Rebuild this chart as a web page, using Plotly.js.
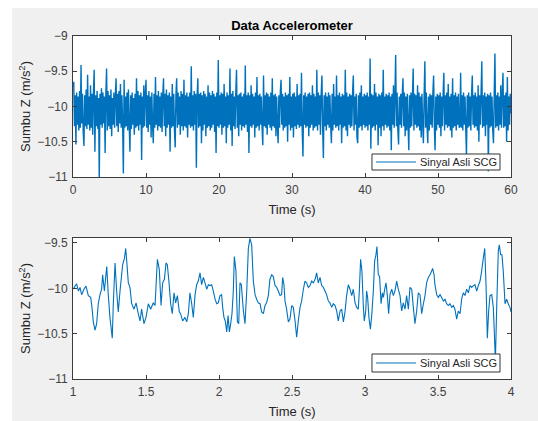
<!DOCTYPE html>
<html>
<head>
<meta charset="utf-8">
<script src="https://cdn.plot.ly/plotly-3.0.1.min.js"></script>
<style>
html,body{margin:0;padding:0;background:#ffffff;}
#chart{position:absolute;left:12px;top:8px;width:526px;height:413px;}
</style>
</head>
<body>
<div id="chart"></div>
<script>
// ---- Data: full 60 s recording, sampled every 0.1 s (values in m/s^2) ----
const fullStart = 0;
const fullStep = 0.1;
const fullValues = [
-9.72,-9.65,-10.28,-9.84,-10.54,-9.80,-10.26,-9.86,-10.34,-9.78,
-10.30,-9.41,-10.24,-9.82,-10.36,-10.56,-9.84,-10.28,-9.76,-10.32,
-9.55,-10.26,-9.86,-10.34,-9.70,-10.30,-9.82,-10.40,-9.80,-9.48,
-10.64,-9.84,-10.28,-9.78,-10.32,-9.88,-11.05,-9.82,-10.26,-9.74,
-10.30,-9.80,-10.24,-9.86,-10.66,-9.82,-9.46,-10.34,-9.78,-10.28,
-9.84,-10.32,-9.76,-10.42,-9.88,-10.26,-9.80,-10.30,-9.86,-9.60,
-10.28,-9.82,-10.36,-9.78,-10.24,-9.68,-10.30,-9.84,-10.26,-10.95,
-9.62,-10.30,-9.86,-10.28,-9.80,-10.34,-9.76,-10.26,-10.64,-9.84,
-10.32,-9.80,-10.26,-9.88,-10.40,-9.82,-10.30,-9.60,-10.28,-9.78,
-10.34,-9.84,-10.26,-9.80,-10.76,-9.86,-10.30,-9.70,-10.28,-9.82,
-9.62,-10.30,-9.84,-10.36,-9.78,-10.26,-9.86,-10.44,-9.80,-10.28,
-10.52,-9.82,-10.30,-9.58,-10.26,-9.84,-10.34,-9.78,-10.28,-9.86,
-10.30,-9.80,-10.36,-9.84,-9.60,-10.28,-9.82,-10.42,-9.76,-10.30,
-9.84,-10.26,-9.80,-10.64,-9.86,-10.30,-9.68,-10.28,-9.82,-10.34,
-10.58,-9.84,-9.60,-10.30,-9.80,-10.26,-9.86,-10.40,-9.78,-10.28,
-9.82,-10.34,-9.62,-10.28,-9.84,-10.30,-9.80,-10.44,-9.86,-10.26,
-9.80,-10.30,-9.43,-10.28,-9.84,-10.34,-9.78,-10.26,-9.82,-10.87,
-9.86,-9.60,-10.30,-9.82,-10.28,-9.80,-10.52,-9.84,-10.34,-9.78,
-10.26,-9.82,-10.42,-9.86,-10.30,-9.70,-10.28,-9.80,-10.34,-9.84,
-10.30,-9.78,-10.26,-9.82,-10.36,-9.86,-10.66,-9.80,-10.28,-9.34,
-10.30,-9.84,-10.26,-9.80,-10.40,-9.82,-10.30,-9.68,-10.28,-9.86,
-10.52,-9.80,-10.30,-9.84,-10.26,-9.46,-10.34,-9.82,-10.56,-9.78,
-10.28,-9.86,-10.32,-9.80,-9.48,-10.30,-9.84,-10.42,-9.82,-10.26,
-9.80,-10.34,-9.86,-10.28,-9.82,-10.30,-9.42,-10.26,-9.84,-10.36,
-9.80,-10.66,-9.84,-10.28,-9.70,-10.30,-9.82,-10.26,-9.86,-10.44,
-9.80,-10.30,-9.58,-10.28,-9.84,-10.34,-9.82,-10.26,-9.86,-10.30,
-10.55,-9.56,-10.28,-9.84,-10.30,-9.80,-10.40,-9.82,-10.26,-9.86,
-10.30,-9.80,-10.34,-9.60,-10.28,-9.84,-10.30,-9.82,-10.42,-9.86,
-10.28,-10.52,-9.84,-10.30,-9.80,-9.62,-10.26,-9.82,-10.34,-9.86,
-10.30,-9.80,-10.28,-9.84,-10.50,-9.82,-10.26,-9.58,-10.34,-9.86,
-10.30,-9.82,-10.44,-9.80,-10.28,-9.86,-10.32,-9.68,-10.26,-9.84,
-10.30,-9.82,-10.28,-9.52,-10.34,-10.71,-9.84,-10.26,-9.80,-10.30,
-9.86,-10.28,-9.82,-10.42,-9.80,-10.30,-9.84,-10.26,-9.70,-10.34,
-9.82,-10.30,-9.86,-10.28,-9.48,-10.34,-9.80,-10.26,-9.84,-10.40,
-9.82,-9.56,-10.30,-10.73,-9.84,-10.28,-9.80,-10.34,-9.86,-10.26,
-9.80,-10.30,-9.84,-10.28,-10.52,-9.82,-10.34,-9.68,-10.26,-9.86,
-10.30,-9.56,-10.28,-9.84,-10.34,-9.80,-10.26,-9.86,-10.52,-9.82,
-10.30,-9.84,-10.28,-9.48,-10.34,-9.80,-10.42,-9.86,-10.26,-9.82,
-10.30,-9.84,-10.28,-9.80,-9.56,-10.34,-9.86,-10.26,-9.82,-10.44,
-10.52,-9.84,-10.30,-9.80,-10.28,-9.70,-10.34,-9.86,-10.26,-9.82,
-10.30,-9.84,-10.28,-9.80,-10.34,-9.86,-10.26,-9.32,-10.60,-9.82,
-10.30,-9.84,-10.28,-9.68,-10.34,-9.80,-10.26,-9.86,-10.55,-9.82,
-10.30,-9.84,-10.42,-9.80,-10.28,-9.48,-10.34,-9.86,-10.26,-9.82,
-10.30,-9.84,-10.28,-9.80,-10.34,-9.86,-10.62,-9.82,-10.26,-9.70,
-10.30,-9.84,-9.27,-10.28,-9.80,-10.34,-10.54,-9.86,-10.26,-9.82,
-10.30,-9.84,-9.60,-10.28,-9.80,-10.42,-9.86,-10.34,-9.82,-10.26,
-10.62,-9.84,-10.30,-9.80,-10.28,-9.86,-9.46,-10.34,-9.82,-10.26,
-9.84,-10.30,-9.70,-10.28,-9.80,-10.34,-9.86,-10.44,-9.82,-10.26,
-10.52,-9.84,-9.36,-10.30,-9.80,-10.28,-10.52,-9.86,-10.34,-9.82,
-10.26,-9.84,-10.30,-9.80,-9.56,-10.28,-10.62,-9.86,-10.34,-9.82,
-10.26,-9.84,-10.30,-9.80,-10.42,-9.86,-10.28,-9.82,-9.52,-10.34,
-9.84,-10.26,-9.80,-10.30,-9.68,-10.28,-9.86,-10.34,-9.82,-10.44,
-9.60,-10.30,-9.84,-10.28,-9.80,-10.34,-9.86,-10.26,-9.82,-10.30,
-10.28,-9.52,-10.30,-9.84,-10.34,-9.80,-10.26,-9.86,-10.30,-10.70,
-9.84,-10.30,-9.80,-10.28,-9.86,-10.34,-9.82,-9.56,-10.26,-9.84,
-10.30,-9.80,-10.28,-9.86,-10.34,-9.70,-10.50,-9.84,-10.26,-9.82,
-9.36,-10.30,-9.84,-10.28,-9.80,-10.42,-9.86,-10.26,-9.82,-10.92,
-9.84,-10.30,-9.80,-10.28,-9.86,-10.34,-10.52,-9.82,-9.25,-10.30,
-9.84,-10.28,-9.80,-10.34,-9.86,-10.26,-9.70,-10.30,-9.82,-9.52,
-10.30,-9.84,-10.28,-9.80,-10.50,-9.58,-10.34,-9.86,-10.26,-9.82,
-10.10
];

// ---- Data: zoom on 1 s .. 4 s ----
const zoomTime = [
1.002,1.014,1.025,1.037,1.048,1.059,1.075,1.089,1.105,1.121,1.130,1.139,1.151,1.162,1.173,1.185,1.196,1.203,1.215,1.231,
1.242,1.253,1.269,1.276,1.288,1.299,1.310,1.322,1.340,1.352,1.361,1.368,1.379,1.390,1.402,1.418,1.432,1.447,1.459,1.470,
1.486,1.500,1.516,1.532,1.550,1.562,1.578,1.591,1.603,1.614,1.626,1.637,1.646,1.658,1.669,1.680,1.692,1.703,1.715,1.728,
1.737,1.751,1.767,1.779,1.790,1.801,1.813,1.824,1.836,1.847,1.858,1.870,1.881,1.893,1.904,1.916,1.927,1.938,1.950,1.961,
1.973,1.984,1.995,2.007,2.018,2.025,2.034,2.043,2.053,2.062,2.071,2.080,2.089,2.098,2.105,2.116,2.126,2.135,2.144,2.153,
2.167,2.178,2.190,2.201,2.212,2.224,2.235,2.247,2.258,2.269,2.281,2.292,2.304,2.315,2.326,2.338,2.349,2.361,2.372,2.384,
2.395,2.406,2.418,2.429,2.436,2.445,2.452,2.463,2.475,2.486,2.498,2.509,2.521,2.532,2.543,2.555,2.566,2.578,2.589,2.600,
2.612,2.623,2.635,2.646,2.658,2.669,2.680,2.692,2.703,2.715,2.726,2.737,2.749,2.760,2.772,2.783,2.795,2.806,2.817,2.829,
2.840,2.852,2.863,2.874,2.886,2.897,2.909,2.920,2.932,2.943,2.954,2.961,2.970,2.979,2.989,2.995,3.005,3.011,3.018,3.027,
3.037,3.046,3.057,3.066,3.075,3.082,3.091,3.100,3.110,3.119,3.126,3.135,3.144,3.153,3.162,3.171,3.183,3.194,3.205,3.217,
3.228,3.240,3.251,3.262,3.274,3.285,3.297,3.308,3.320,3.331,3.342,3.354,3.365,3.377,3.388,3.400,3.411,3.422,3.434,3.445,
3.457,3.463,3.473,3.479,3.491,3.502,3.514,3.525,3.537,3.548,3.559,3.571,3.582,3.594,3.605,3.616,3.628,3.639,3.651,3.662,
3.673,3.685,3.696,3.708,3.719,3.731,3.742,3.753,3.765,3.776,3.788,3.799,3.810,3.820,3.829,3.838,3.847,3.856,3.868,3.879,
3.886,3.893,3.902,3.913,3.920,3.929,3.938,3.947,3.959,3.970,3.981,3.993,4.000
];
const zoomValues = [
-10.01,-9.975,-9.95,-10.03,-9.99,-10.07,-10.01,-9.975,-10.08,-10.10,-10.21,-10.37,-10.46,-10.39,-10.17,-10.07,-10.01,-9.85,-10.03,-9.76,
-10.08,-10.32,-10.55,-10.17,-9.72,-10.03,-10.26,-10.03,-9.74,-9.67,-9.56,-9.70,-9.94,-9.99,-10.17,-10.23,-10.16,-10.28,-10.36,-10.23,
-10.39,-10.32,-10.17,-10.23,-10.16,-10.19,-9.68,-9.79,-10.19,-9.94,-9.90,-9.72,-9.74,-9.94,-10.17,-10.28,-10.05,-10.16,-10.08,-10.26,
-10.28,-10.36,-10.32,-10.37,-10.28,-10.05,-10.17,-10.32,-10.07,-9.96,-9.92,-9.83,-9.96,-9.88,-9.94,-10.01,-9.96,-9.97,-9.96,-10.03,
-10.12,-10.17,-10.16,-10.08,-10.07,-10.21,-10.32,-10.36,-10.48,-10.30,-10.48,-10.39,-10.28,-10.03,-9.65,-9.81,-10.37,-10.39,-9.94,-9.96,
-10.25,-10.39,-10.03,-9.56,-9.449,-9.52,-9.92,-10.07,-10.12,-10.16,-10.17,-10.26,-10.28,-10.19,-10.16,-10.08,-9.90,-9.85,-9.87,-9.97,
-9.99,-10.03,-10.08,-10.07,-9.88,-9.96,-10.14,-10.23,-10.37,-10.34,-10.19,-10.21,-10.36,-10.54,-10.36,-10.21,-10.14,-10.01,-9.92,-9.94,
-9.99,-9.97,-9.92,-9.94,-9.90,-9.83,-9.94,-9.88,-9.97,-9.99,-10.03,-10.07,-10.14,-10.16,-10.21,-10.17,-10.19,-10.25,-10.36,-10.25,
-10.23,-10.37,-10.26,-10.08,-9.96,-10.01,-10.08,-10.01,-10.16,-10.21,-10.23,-10.03,-9.68,-9.81,-10.21,-10.36,-10.25,-10.03,-10.10,-10.32,
-10.45,-10.30,-10.03,-9.70,-9.63,-9.54,-9.85,-9.87,-10.17,-10.05,-10.10,-10.01,-9.94,-10.08,-10.28,-10.07,-10.01,-10.08,-10.03,-9.92,
-10.01,-10.08,-10.25,-10.16,-10.23,-10.08,-10.23,-9.99,-10.01,-10.21,-10.39,-10.25,-10.05,-10.07,-10.28,-10.17,-10.08,-9.94,-9.88,-9.85,
-9.81,-9.78,-9.85,-9.96,-10.07,-10.10,-10.07,-10.10,-10.14,-10.12,-10.17,-10.19,-10.17,-10.21,-10.19,-10.23,-10.34,-10.25,-10.28,-10.12,
-10.05,-10.08,-10.01,-10.05,-9.97,-9.99,-9.97,-9.96,-10.03,-9.97,-9.92,-9.81,-9.67,-9.56,-9.96,-10.55,-10.25,-10.08,-10.07,-10.21,
-10.50,-10.80,-10.21,-9.59,-9.52,-9.63,-9.63,-9.81,-10.17,-10.12,-10.17,-10.21,-10.26
];

// ---- Labels ----
const chartTitle = 'Data Accelerometer';
const seriesName = 'Sinyal Asli SCG';
const xTitle = 'Time (s)';
const yTitle = 'Sumbu Z (m/s<sup>2</sup>)';
const fullXTicks = [0, 10, 20, 30, 40, 50, 60];
const fullYTicks = [-11, -10.5, -10, -9.5, -9];
const zoomXTicks = [1, 1.5, 2, 2.5, 3, 3.5, 4];
const zoomYTicks = [-11, -10.5, -10, -9.5];

const lineColor = '#0072BD';
const axisColor = '#3c3c3c';
const fontFamily = 'Liberation Sans, Arial, sans-serif';
const tickFont = {family: fontFamily, size: 12, color: '#404040'};
const titleFont = {family: fontFamily, size: 13, color: '#262626'};

function axisBase(extra) {
  return Object.assign({
    showline: true, linecolor: axisColor, linewidth: 1, mirror: 'ticks',
    ticks: 'inside', ticklen: 4, tickcolor: axisColor, tickwidth: 1,
    showgrid: false, zeroline: false, tickfont: tickFont, tickmode: 'array'
  }, extra);
}

const traces = [
  {type: 'scatter', mode: 'lines', x0: fullStart, dx: fullStep, y: fullValues,
   name: seriesName, line: {color: lineColor, width: 1.4, simplify: false}, xaxis: 'x', yaxis: 'y', showlegend: false},
  {type: 'scatter', mode: 'lines', x: zoomTime, y: zoomValues,
   name: seriesName, line: {color: lineColor, width: 1.1, simplify: false}, xaxis: 'x2', yaxis: 'y2', showlegend: false}
];

// MATLAB-style compact legend boxes (one per subplot), in paper coordinates
function legendParts(yBottom, yTop) {
  const yMid = (yBottom + yTop) / 2;
  return {
    shapes: [
      {type: 'rect', xref: 'paper', yref: 'paper', x0: 0.6826, x1: 0.9749, y0: yBottom, y1: yTop,
       fillcolor: '#ffffff', line: {color: '#333333', width: 1}, layer: 'above'},
      {type: 'line', xref: 'paper', yref: 'paper', x0: 0.6918, x1: 0.7831, y0: yMid, y1: yMid,
       line: {color: lineColor, width: 1.2}, layer: 'above'}
    ],
    annotation: {text: seriesName, xref: 'paper', yref: 'paper', x: 0.7877, y: yMid,
       xanchor: 'left', yanchor: 'middle', showarrow: false,
       font: {family: fontFamily, size: 11, color: '#262626'}}
  };
}
const leg1 = legendParts(0.6093, 0.6560);
const leg2 = legendParts(0.0204, 0.0729);

const layout = {
  width: 526, height: 413,
  paper_bgcolor: '#f0f0f0', plot_bgcolor: '#ffffff',
  margin: {l: 61, r: 27, t: 28, b: 42},
  showlegend: false,
  title: {text: '<b>' + chartTitle + '</b>', x: 0.5, xref: 'paper', y: 0.9588, yref: 'container', yanchor: 'middle',
          font: {family: fontFamily, size: 13, color: '#000000'}},
  xaxis: axisBase({domain: [0, 1], range: [0, 60], tickvals: fullXTicks, anchor: 'y', ticklabelstandoff: 2,
          title: {text: xTitle, font: titleFont, standoff: 8}}),
  yaxis: axisBase({domain: [0.5889, 1], range: [-11, -9], tickvals: fullYTicks, anchor: 'x', ticklabelstandoff: 2,
          title: {text: yTitle, font: titleFont, standoff: 3}}),
  xaxis2: axisBase({domain: [0, 1], range: [1, 4], tickvals: zoomXTicks, anchor: 'y2', ticklabelstandoff: 2,
          title: {text: xTitle, font: titleFont, standoff: 8}}),
  yaxis2: axisBase({domain: [0, 0.4111], range: [-11, -9.445], tickvals: zoomYTicks, anchor: 'x2', ticklabelstandoff: 2,
          title: {text: yTitle, font: titleFont, standoff: 3}}),
  shapes: leg1.shapes.concat(leg2.shapes),
  annotations: [leg1.annotation, leg2.annotation]
};

Plotly.newPlot('chart', traces, layout, {staticPlot: true, displayModeBar: false});
</script>
</body>
</html>
